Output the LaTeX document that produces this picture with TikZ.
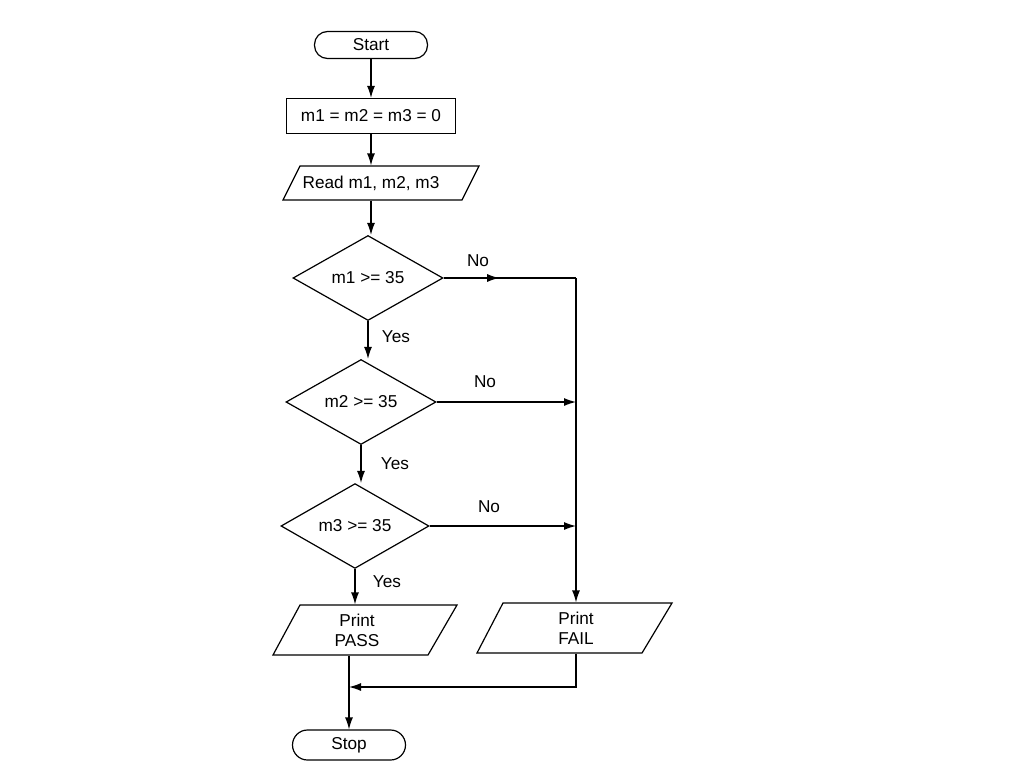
\documentclass[tikz,border=0pt]{standalone}
\usepackage{fontspec}
\setmainfont{Liberation Sans}
\usetikzlibrary{shapes.geometric,arrows.meta,decorations.markings}
\begin{document}
\begin{tikzpicture}[x=1pt,y=-1pt, line width=1.2pt,
 font=\fontsize{17.2}{20}\selectfont,
 arr/.style={-{Latex[length=12pt,width=8pt]}},
 term/.style={draw, rounded corners=13pt, minimum width=113pt, minimum height=27pt, inner sep=0pt},
 proc/.style={draw, minimum width=169pt, minimum height=35pt, inner sep=0pt},
 dec/.style={draw, diamond, minimum width=150pt, minimum height=85pt, inner sep=0pt},
 iotext/.style={inner sep=0pt, align=center},
 lbl/.style={inner sep=0pt},
 midarr/.style={postaction={decorate}, decoration={markings, mark=at position #1 with {\arrow{Latex[length=12pt,width=8pt]}}}}
]
\useasboundingbox (0,0) rectangle (1024,768);
% terminals and process
\node[term] (start) at (371,45) {Start};
\node[proc] (init) at (371,116) {m1 = m2 = m3 = 0};
% read parallelogram
\draw (300,166) -- (479,166) -- (462,200) -- (283,200) -- cycle;
\node[iotext, minimum height=34pt] (read) at (371,183) {Read m1, m2, m3};
% decisions
\node[dec] (d1) at (368,278) {m1 >= 35};
\node[dec] (d2) at (361,402) {m2 >= 35};
\node[dec, minimum width=148pt, minimum height=83pt] (d3) at (355,526) {m3 >= 35};
% print pass
\draw (300,605) -- (457,605) -- (428,655) -- (273,655) -- cycle;
\node[iotext, minimum height=50pt] (pass) at (357,630) {Print\\PASS};
% print fail
\draw (503,603) -- (672,603) -- (642,653) -- (477,653) -- cycle;
\node[iotext, minimum height=50pt] (fail) at (576,628) {Print\\FAIL};
% stop
\node[term, minimum height=30pt, rounded corners=15pt] (stop) at (349,745) {Stop};
% junctions
\coordinate (j1) at (576,278);
\coordinate (j2) at (576,402);
\coordinate (j3) at (576,526);
\coordinate (mj) at (349,687);
% connectors
\draw[arr] (start) -- (init);
\draw[arr] (init) -- (init.south |- read.north);
\draw[arr] (read.south) -- (read.south |- d1.north);
\draw[arr] (d1.south) -- (d1.south |- d2.north);
\draw[arr] (d2.south) -- (d2.south |- d3.north);
\draw[arr] (d3.south) -- (d3.south |- pass.north);
\draw[midarr=0.42] (d1.east) -- (j1);
\draw[arr] (j1) -- (j1 |- fail.north);
\draw[arr] (d2.east) -- (j2);
\draw[arr] (d3.east) -- (j3);
\draw[arr] (fail.south) |- (mj);
\draw[arr] (stop.north |- pass.south) -- (stop.north);
% labels
\node[lbl] (no1) at (478,261) {No};
\node[lbl] (no2) at (485,382) {No};
\node[lbl] (no3) at (489,507) {No};
\node[lbl] (yes1) at (396,337) {Yes};
\node[lbl] (yes2) at (395,464) {Yes};
\node[lbl] (yes3) at (387,582) {Yes};
\end{tikzpicture}
\end{document}
